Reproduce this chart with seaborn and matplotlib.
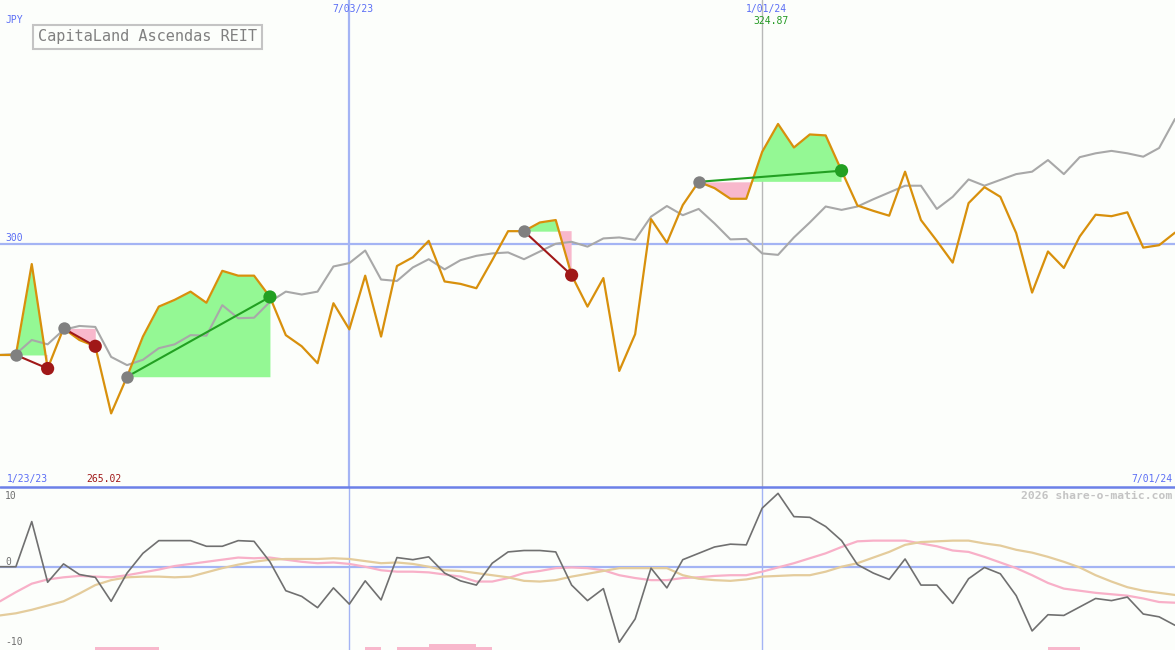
"""Weekly price chart with trade markers and oscillator panel."""

import matplotlib

matplotlib.use("Agg")
import matplotlib.pyplot as plt
import numpy as np
import pandas as pd
import seaborn as sns

# weekly closes, 30 Jan 2023 .. 1 Jul 2024
dates = pd.date_range("2023-01-30", periods=75, freq="7D")

price = [
    277.1, 277.1, 295.9, 274.3, 282.6, 280.2, 278.9, 265.02, 272.6, 280.9,
    287.1, 288.5, 290.2, 287.9, 294.5, 293.5, 293.5, 289.1, 281.2, 278.9,
    275.4, 287.8, 282.4, 293.5, 280.9, 295.5, 297.3, 300.7, 292.3, 291.8,
    290.9, 296.7, 302.7, 302.7, 304.5, 305.0, 293.6, 287.1, 293.0, 273.8,
    281.4, 305.2, 300.3, 308.1, 312.9, 311.6, 309.4, 309.4, 319.1, 324.87,
    320.0, 322.7, 322.5, 315.2, 308.0, 306.9, 305.9, 315.0, 305.0, 300.7,
    296.2, 308.5, 311.8, 309.8, 302.3, 290.0, 298.5, 295.1, 301.6, 306.1,
    305.8, 306.6, 299.3, 299.8, 302.4,
]

average = [
    277.1, 277.3, 280.2, 279.3, 282.3, 283.1, 282.9, 276.7, 275.0, 276.1,
    278.5, 279.3, 281.2, 281.1, 287.4, 284.7, 284.8, 288.1, 290.2, 289.6,
    290.2, 295.4, 296.1, 298.7, 292.7, 292.4, 295.2, 296.9, 294.8, 296.7,
    297.6, 298.1, 298.3, 296.9, 298.5, 300.1, 300.5, 299.5, 301.2, 301.4,
    300.9, 305.7, 307.9, 306.0, 307.3, 304.3, 301.0, 301.1, 298.1, 297.8,
    301.4, 304.5, 307.8, 307.1, 307.8, 309.3, 310.7, 312.1, 312.1, 307.3,
    309.8, 313.4, 312.1, 313.3, 314.5, 315.0, 317.4, 314.5, 318.0, 318.8,
    319.3, 318.8, 318.1, 319.9, 325.9,
]

momentum = [
    0.1, 0.1, 6.5, -2.1, 0.5, -1.0, -1.4, -4.8, -0.8, 2.0,
    3.8, 3.8, 3.8, 3.0, 3.0, 3.8, 3.7, 0.8, -3.3, -4.1,
    -5.7, -2.9, -5.2, -1.9, -4.6, 1.4, 1.1, 1.5, -0.8, -1.9,
    -2.5, 0.6, 2.2, 2.4, 2.4, 2.2, -2.5, -4.7, -3.0, -10.6,
    -7.3, -0.1, -2.9, 1.1, 2.0, 2.9, 3.3, 3.2, 8.4, 10.5,
    7.2, 7.1, 5.8, 3.8, 0.4, -0.8, -1.7, 1.2, -2.5, -2.5,
    -5.1, -1.6, 0.0, -0.9, -4.0, -9.0, -6.7, -6.8, -5.6, -4.4,
    -4.7, -4.2, -6.6, -7.0, -8.2,
]

fast_avg = [
    -4.8, -3.5, -2.3, -1.7, -1.4, -1.2, -1.3, -1.4, -1.1, -0.7,
    -0.3, 0.2, 0.5, 0.8, 1.1, 1.4, 1.3, 1.4, 1.1, 0.8,
    0.6, 0.7, 0.5, 0.1, -0.4, -0.6, -0.6, -0.7, -1.0, -1.3,
    -2.0, -2.0, -1.5, -0.8, -0.5, -0.1, 0.0, -0.1, -0.4, -1.1,
    -1.5, -1.8, -1.8, -1.5, -1.4, -1.2, -1.1, -1.1, -0.6, 0.0,
    0.6, 1.3, 2.0, 2.9, 3.7, 3.8, 3.8, 3.8, 3.4, 3.0,
    2.4, 2.2, 1.5, 0.7, -0.1, -1.1, -2.2, -3.0, -3.3, -3.6,
    -3.8, -4.0, -4.4, -4.9, -5.0,
]

slow_avg = [
    -6.8, -6.5, -6.0, -5.4, -4.8, -3.7, -2.5, -1.8, -1.4, -1.3,
    -1.3, -1.4, -1.3, -0.7, -0.1, 0.4, 0.8, 1.1, 1.2, 1.2,
    1.2, 1.3, 1.2, 0.9, 0.6, 0.7, 0.5, 0.1, -0.4, -0.5,
    -0.8, -1.1, -1.4, -1.9, -2.0, -1.8, -1.3, -0.9, -0.5, -0.1,
    -0.1, -0.1, -0.1, -1.1, -1.6, -1.8, -1.9, -1.7, -1.3, -1.2,
    -1.1, -1.1, -0.6, 0.1, 0.6, 1.4, 2.2, 3.2, 3.6, 3.7,
    3.8, 3.8, 3.4, 3.1, 2.5, 2.1, 1.5, 0.8, 0.0, -1.1,
    -2.0, -2.8, -3.3, -3.6, -3.9,
]

# signal strength per week (0 = none)
signal = [0] * 75
for i in [6, 7, 8, 9, 23, 25, 26, 30, 66, 67]:
    signal[i] = 1
for i in [27, 28, 29]:
    signal[i] = 2

entry_idx = [1, 4, 8, 33, 44]
exit_idx = [3, 6, 17, 36, 53]

BG = "#fcfefb"
BLUE_TXT = "#5b6ef5"
LIGHT_BLUE = "#a4b4f4"
ORANGE = "#d8900c"
GREEN_FILL = "#94f894"
PINK_FILL = "#f8b8cc"
LOSS = "#a01818"
WIN = "#22a022"


def px(x, y):
    """Pixel position to figure fraction."""
    return x / 1175, 1 - y / 650


def main():
    sns.set_style("white")
    plt.rcParams["font.family"] = ["DejaVu Sans Mono"]

    df = pd.DataFrame(
        {
            "date": dates,
            "price": price,
            "average": average,
            "momentum": momentum,
            "fast": fast_avg,
            "slow": slow_avg,
            "signal": signal,
        }
    )

    fig = plt.figure(figsize=(11.75, 6.5), dpi=100, facecolor=BG)
    ax = fig.add_axes([0, 163 / 650, 1, 487 / 650])
    ax2 = fig.add_axes([0, 0, 1, 163 / 650])
    for a in (ax, ax2):
        a.axis("off")
        a.set_xlim(dates[0], dates[-1])
    ax.set_ylim(249.8, 350.5)
    ax2.set_ylim(-11.7, 11.4)

    # guide lines
    ax.axhline(300, color=LIGHT_BLUE, lw=1.6, zorder=1)
    ax.axvline(pd.Timestamp("2023-07-03"), color=LIGHT_BLUE, lw=1.6, zorder=1)
    ax.axvline(pd.Timestamp("2024-01-01"), color="#b8b8b8", lw=1.0, zorder=1)

    # trade shading
    x_num = matplotlib.dates.date2num(df["date"])
    for a, b in zip(entry_idx, exit_idx):
        xs = x_num[a : b + 1]
        ys = np.array(price[a : b + 1])
        level = price[a]
        ax.fill_between(xs, ys, level, where=ys >= level, interpolate=True,
                        color=GREEN_FILL, lw=0, zorder=2)
        ax.fill_between(xs, ys, level, where=ys <= level, interpolate=True,
                        color=PINK_FILL, lw=0, zorder=2)

    sns.lineplot(data=df, x="date", y="average", color="#a8a8a8", lw=1.5,
                 ax=ax, zorder=3)
    sns.lineplot(data=df, x="date", y="price", color=ORANGE, lw=1.6,
                 ax=ax, zorder=4)

    trades = pd.DataFrame(
        {
            "entry_date": dates[entry_idx],
            "entry_price": [price[i] for i in entry_idx],
            "exit_date": dates[exit_idx],
            "exit_price": [price[i] for i in exit_idx],
        }
    )
    trades["win"] = trades["exit_price"] > trades["entry_price"]
    for _, t in trades.iterrows():
        c = WIN if t["win"] else LOSS
        ax.plot([t["entry_date"], t["exit_date"]],
                [t["entry_price"], t["exit_price"]],
                color=c, lw=1.5, zorder=5)
    sns.scatterplot(data=trades, x="entry_date", y="entry_price", color="#808080",
                    s=80, linewidth=0, ax=ax, zorder=6)
    sns.scatterplot(data=trades, x="exit_date", y="exit_price", hue="win",
                    palette={True: WIN, False: LOSS}, s=90, linewidth=0,
                    legend=False, ax=ax, zorder=6)

    # lower panel
    ax2.axhline(0, color=LIGHT_BLUE, lw=1.6, zorder=1)
    ax2.axvline(pd.Timestamp("2023-07-03"), color=LIGHT_BLUE, lw=1.0, zorder=1)
    ax2.axvline(pd.Timestamp("2024-01-01"), color=LIGHT_BLUE, lw=1.0, zorder=1)
    ax2.bar(df["date"], df["signal"] * 0.42, width=7, align="edge",
            bottom=-11.7, color="#f8b8cc", lw=0, zorder=2)
    sns.lineplot(data=df, x="date", y="fast", color="#f8b0c8", lw=1.6, ax=ax2, zorder=3)
    sns.lineplot(data=df, x="date", y="slow", color="#e4cc9c", lw=1.6, ax=ax2, zorder=3)
    sns.lineplot(data=df, x="date", y="momentum", color="#707070", lw=1.2,
                 ax=ax2, zorder=4)

    fig.add_artist(plt.Line2D([0, 1], [163 / 650, 163 / 650],
                              transform=fig.transFigure, color="#6c80e8", lw=1.8))

    # labels
    small = dict(fontsize=7, va="center")
    fig.text(*px(5, 20), "JPY", color=BLUE_TXT, ha="left", **small)
    fig.text(*px(5, 238), "300", color=BLUE_TXT, ha="left", **small)
    fig.text(*px(353, 9), "7/03/23", color=BLUE_TXT, ha="center", **small)
    fig.text(*px(787, 9), "1/01/24", color=BLUE_TXT, ha="right", **small)
    fig.text(*px(789, 21), "324.87", color="#229922", ha="right", **small)
    fig.text(*px(7, 479), "1/23/23", color=BLUE_TXT, ha="left", **small)
    fig.text(*px(86, 479), "265.02", color=LOSS, ha="left", **small)
    fig.text(*px(1172, 479), "7/01/24", color=BLUE_TXT, ha="right", **small)
    fig.text(*px(1172, 496), "2026 share-o-matic.com", color="#c4c4c4",
             ha="right", va="center", fontsize=8.2, fontweight="bold")
    fig.text(*px(5, 496), "10", color="#707070", ha="left", **small)
    fig.text(*px(5, 562), "0", color="#707070", ha="left", **small)
    fig.text(*px(5, 642), "-10", color="#707070", ha="left", **small)

    fig.text(*px(38, 37), "CapitaLand Ascendas REIT", color="#808080",
             ha="left", va="center", fontsize=11,
             bbox=dict(boxstyle="square,pad=0.3", fc=BG, ec="#c4c4c4", lw=1.5))

    fig.savefig("out.png", dpi=100, facecolor=BG)
    plt.close(fig)


if __name__ == "__main__":
    main()
